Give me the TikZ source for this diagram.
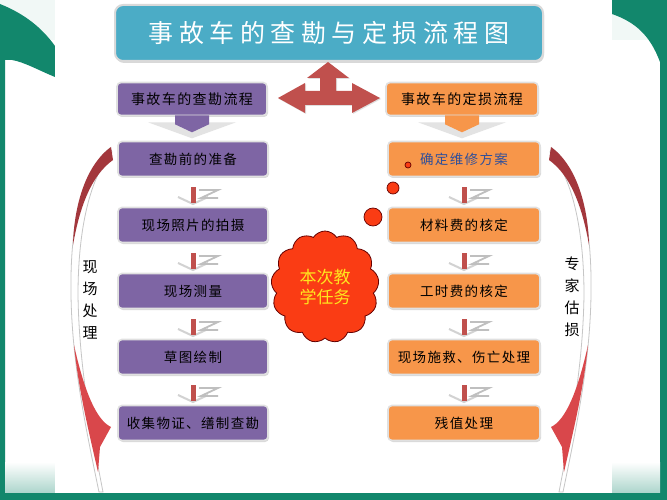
\documentclass[tikz,border=0pt]{standalone}
\usepackage{fontspec}
\setmainfont{Noto Sans CJK SC}
\newfontfamily\boxfont[LetterSpace=10]{Noto Sans CJK SC}
\newfontfamily\titlefont[LetterSpace=22]{Noto Sans CJK SC}
\usetikzlibrary{positioning,calc,shapes.symbols,shadows}

\definecolor{frameteal}{HTML}{12876C}
\definecolor{titleteal}{HTML}{4BACC6}
\definecolor{boxpurple}{HTML}{7E65A4}
\definecolor{boxorange}{HTML}{F7964A}
\definecolor{arrowred}{HTML}{C0504D}
\definecolor{bladedark}{HTML}{A3373C}
\definecolor{bladered}{HTML}{D9474B}
\definecolor{cloudred}{HTML}{FA3C14}
\definecolor{cloudtext}{HTML}{FFE61E}
\definecolor{planblue}{HTML}{2F4F9A}

% one side band, drawn for the left side; the right one is its mirror
\newcommand{\sideband}{%
  \filldraw[fill=white, draw=gray!45, line width=0.8pt]
    (110,148) .. controls (78,175) and (70,235) .. (71,295)
    .. controls (72,360) and (84,420) .. (99,492) -- (103,492)
    .. controls (89,420) and (79,360) .. (78,295)
    .. controls (78,235) and (88,180) .. (112,152) -- cycle;
  \fill[bladedark] (111,147) .. controls (86,165) and (74,205) .. (73,245)
    .. controls (80,205) and (92,175) .. (113,160) -- cycle;
  \fill[bladered] (74,345) .. controls (78,385) and (86,420) .. (98,472)
    -- (100,447) -- (111,427) .. controls (96,420) and (84,390) .. (74,345) -- cycle;
}

\tikzset{
  panelbox/.style={rounded corners=4pt, draw=white!88!black, line width=1.6pt,
    minimum height=35pt, inner sep=0pt,
    font=\boxfont\fontsize{13.5}{16}\selectfont,
    drop shadow={shadow xshift=1pt, shadow yshift=-1.5pt, opacity=0.3}},
  leftbox/.style={panelbox, fill=boxpurple, minimum width=150pt},
  rightbox/.style={panelbox, fill=boxorange, minimum width=152pt},
  headtip/.style={fill=gray!22},
  linkbar/.style={draw=arrowred, line width=5pt},
  linkvee/.style={draw=gray!35, line width=2pt},
  linkzed/.style={draw=gray!50, line width=1.8pt},
  sidetext/.style={align=center, font=\fontsize{15}{22}\selectfont},
  bubble/.style={fill=cloudred, draw=black!60!red, line width=0.7pt}
}

\begin{document}
\begin{tikzpicture}[x=1pt,y=-1pt]
  \useasboundingbox (0,0) rectangle (667,500);
  % slide frame
  \fill[frameteal!6] (0,0) rectangle (667,500);
  \fill[white] (5,40) rectangle (662,493);
  \fill[frameteal] (0,4) .. controls (25,14) and (42,28) .. (55,46) -- (55,77)
    .. controls (38,70) and (24,62) .. (12,60) -- (5,60) -- (5,500) -- (0,500) -- cycle;
  \fill[frameteal] (612,0) -- (667,0) -- (667,500) -- (660,500) -- (660,62)
    .. controls (650,35) and (635,22) .. (612,14) -- cycle;
  \shade[top color=white, bottom color=frameteal!35] (5,462) rectangle (55,493);
  \shade[top color=white, bottom color=frameteal!35] (612,462) rectangle (660,493);
  \fill[frameteal] (0,493) rectangle (667,500);
  \fill[white] (55,0) rectangle (612,493);

  % title and the two headers
  \node[rounded corners=8pt, fill=titleteal, draw=white!85!black, line width=2pt,
    minimum width=428pt, minimum height=56pt, text=white,
    font=\titlefont\fontsize{25}{28}\selectfont,
    drop shadow={shadow xshift=1pt, shadow yshift=-2pt, opacity=0.3}]
    (T) at (329,33) {事故车的查勘与定损流程图};

  \node[leftbox, minimum height=33pt, font=\boxfont\fontsize{14}{16}\selectfont] (HL) at (192,99) {事故车的查勘流程};
  \node[rightbox, minimum height=33pt, font=\boxfont\fontsize{14}{16}\selectfont] (HR) at (462,99) {事故车的定损流程};

  \fill[headtip] ($(HL.south)+(-44,6)$) -- ($(HL.south)+(44,6)$) -- ($(HL.south)+(0,22)$) -- cycle;
  \fill[boxpurple] ($(HL.south)+(-17,-1)$) -- ($(HL.south)+(17,-1)$) -- ($(HL.south)+(17,8)$)
    -- ($(HL.south)+(0,16)$) -- ($(HL.south)+(-17,8)$) -- cycle;
  \fill[headtip] ($(HR.south)+(-44,6)$) -- ($(HR.south)+(44,6)$) -- ($(HR.south)+(0,22)$) -- cycle;
  \fill[boxorange] ($(HR.south)+(-17,-1)$) -- ($(HR.south)+(17,-1)$) -- ($(HR.south)+(17,8)$)
    -- ($(HR.south)+(0,16)$) -- ($(HR.south)+(-17,8)$) -- cycle;

  % three-way arrow
  \fill[arrowred, drop shadow={shadow xshift=1pt, shadow yshift=-1pt, opacity=0.25}]
    (278,98) -- (305,83) -- (305,91) -- (320,91) -- (320,78) -- (307,78) -- (328,62)
    -- (349,78) -- (336,78) -- (336,91) -- (352,91) -- (352,83) -- (380,98)
    -- (352,113) -- (352,105) -- (305,105) -- (305,113) -- cycle;

  % side bands
  \sideband
  \begin{scope}[shift={(662,0)}, xscale=-1]
    \sideband
  \end{scope}
  \node[sidetext] (SL) at (90,300) {现\\场\\处\\理};
  \node[sidetext] (SR) at (572,297) {专\\家\\估\\损};

  % the two columns
  \foreach \t [count=\i] in {查勘前的准备,现场照片的拍摄,现场测量,草图绘制,收集物证、缮制查勘}
    \node[leftbox] (L\i) at (193,{93+66*\i}) {\t};
  \foreach \t [count=\i] in {{\color{planblue}确定维修方案},材料费的核定,工时费的核定,现场施救、伤亡处理,残值处理}
    \node[rightbox] (R\i) at (464,{93+66*\i}) {\t};

  \foreach \side in {L,R} \foreach \i in {1,...,4} {
    \pgfmathtruncatemacro{\j}{\i+1}
    \coordinate (m) at ($(\side\i.south)!0.5!(\side\j.north)$);
    \draw[linkvee] ($(m)+(-15,5)$) -- ($(m)+(0,12)$) -- ($(m)+(15,5)$);
    \draw[linkzed] ($(m)+(6,-2)$) -- ($(m)+(25,-2)$) -- ($(m)+(8,6)$) -- ($(m)+(25,6)$);
    \draw[linkbar] ([yshift=-10pt]\side\i.south) -- ([yshift=4pt]\side\j.north);
  }

  % callout
  \node[cloud, cloud puffs=13, cloud puff arc=115, aspect=1, fill=cloudred,
    draw=black!60!red, line width=0.8pt, minimum width=108pt, minimum height=112pt,
    align=center, text=cloudtext, font=\fontsize{17}{20}\selectfont]
    (task) at (325,287) {本次教\\学任务};
  \filldraw[bubble] (373,217) circle (9pt);
  \filldraw[bubble] (393,188) circle (6pt);
  \filldraw[bubble] (408,165) circle (3pt);
\end{tikzpicture}
\end{document}
